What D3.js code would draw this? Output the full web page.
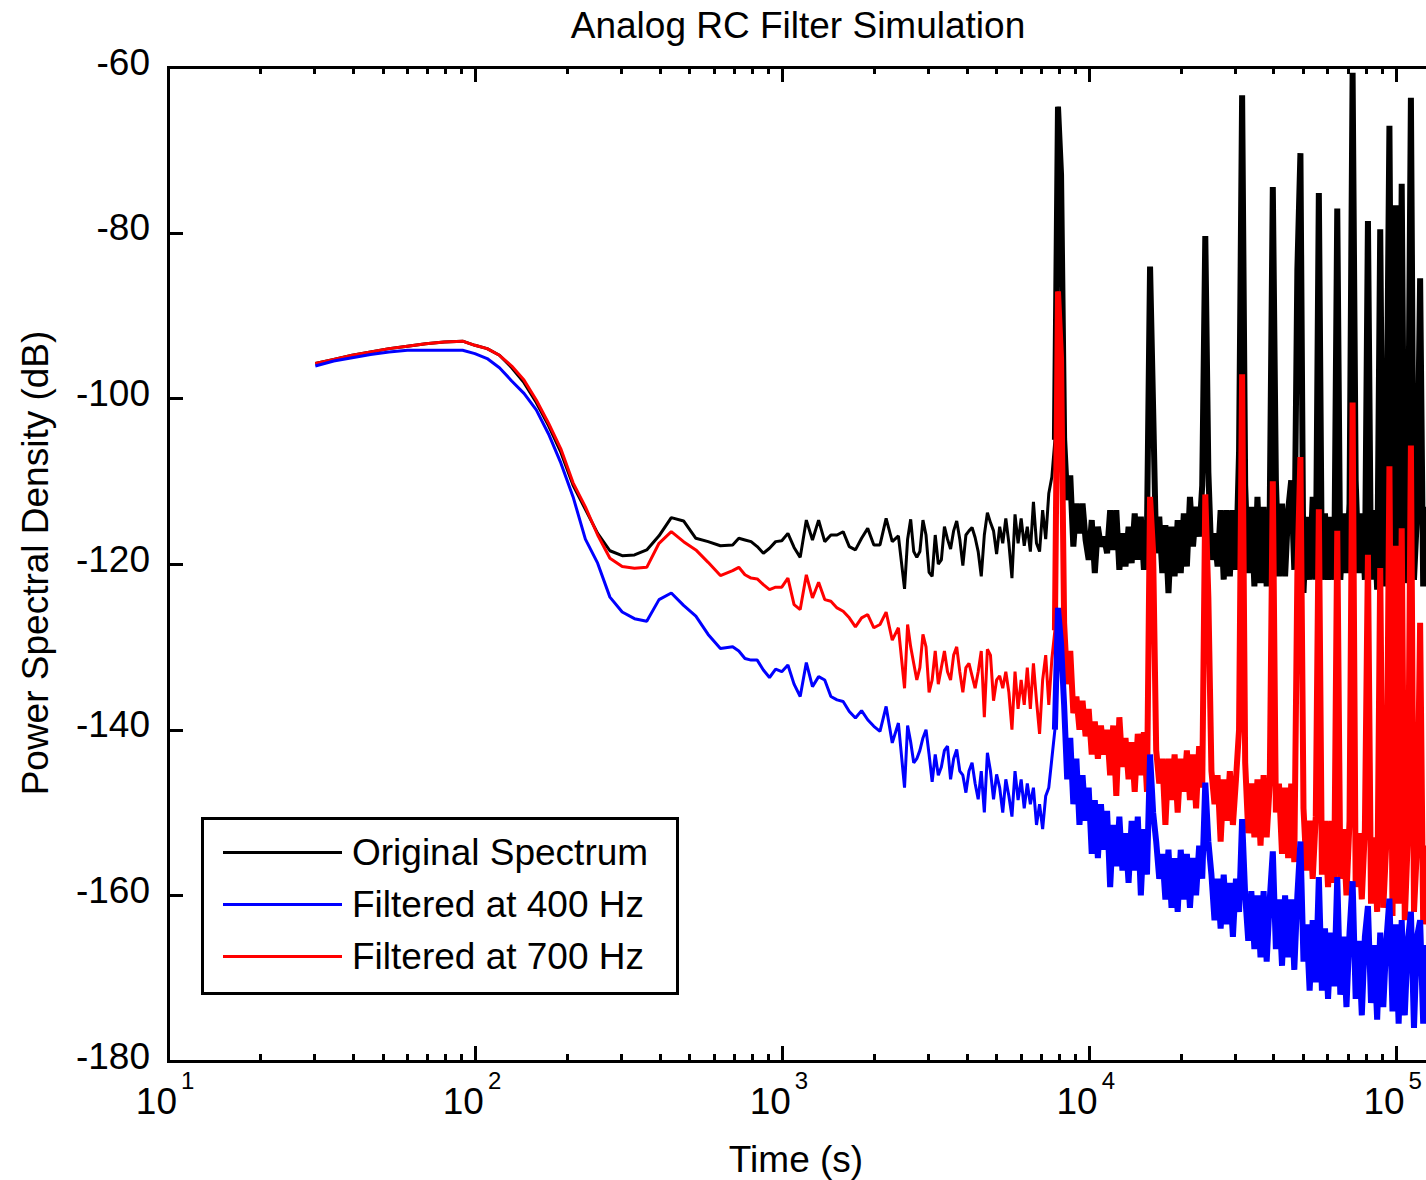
<!DOCTYPE html>
<html>
<head>
<meta charset="utf-8">
<script src="https://cdn.jsdelivr.net/npm/d3@7"></script>
<style>
  body { margin: 0; background: #fff; overflow: hidden; }
  svg { display: block; }
  text { font-family: "Liberation Sans", Arial, sans-serif; fill: #000; }
</style>
</head>
<body>
<script>
// frequency grid, as log10(Hz), shared by all three spectra
const freqLog = [
  1.48, 1.54, 1.60, 1.66, 1.72, 1.78, 1.84, 1.90, 1.96, 2.00,
  2.04, 2.08, 2.12, 2.16, 2.20, 2.24, 2.28, 2.32, 2.36, 2.40,
  2.44, 2.48, 2.52, 2.56, 2.60, 2.64, 2.68, 2.72, 2.76, 2.80, 2.84,
  2.86, 2.88, 2.90, 2.92, 2.94, 2.96, 2.98, 3.00, 3.02, 3.04,
  3.06, 3.08, 3.10, 3.12, 3.14, 3.16, 3.18, 3.20, 3.22, 3.24,
  3.26, 3.28, 3.30, 3.32, 3.34, 3.36, 3.38,
  3.40, 3.41, 3.42, 3.43, 3.44, 3.45, 3.46, 3.47, 3.48, 3.49,
  3.50, 3.51, 3.52, 3.53, 3.54, 3.55, 3.56, 3.57, 3.58, 3.59,
  3.60, 3.61, 3.62, 3.63, 3.64, 3.65, 3.66, 3.67, 3.68, 3.69,
  3.70, 3.71, 3.72, 3.73, 3.74, 3.75, 3.76, 3.77, 3.78, 3.79,
  3.80, 3.81, 3.82, 3.83, 3.84, 3.85, 3.86, 3.87, 3.88, 3.89,
  3.90, 3.91, 3.92, 3.93, 3.94, 3.95, 3.96, 3.97, 3.98, 3.99,
  4.00, 4.01, 4.02, 4.03, 4.04, 4.05, 4.06, 4.07, 4.08, 4.09,
  4.10, 4.11, 4.12, 4.13, 4.14, 4.15, 4.16, 4.17, 4.18, 4.19,
  4.20, 4.21, 4.22, 4.23, 4.24, 4.25, 4.26, 4.27, 4.28, 4.29,
  4.30, 4.31, 4.32, 4.33, 4.34, 4.35, 4.36, 4.37, 4.38, 4.39,
  4.40, 4.41, 4.42, 4.43, 4.44, 4.45, 4.46, 4.47, 4.48, 4.49,
  4.50, 4.51, 4.52, 4.53, 4.54, 4.55, 4.56, 4.57, 4.58, 4.59,
  4.60, 4.61, 4.62, 4.63, 4.64, 4.65, 4.66, 4.67, 4.68, 4.69,
  4.70, 4.71, 4.72, 4.73, 4.74, 4.75, 4.76, 4.77, 4.78, 4.79,
  4.80, 4.81, 4.82, 4.83, 4.84, 4.85, 4.86, 4.87, 4.88, 4.89,
  4.90, 4.91, 4.92, 4.93, 4.94, 4.95, 4.96, 4.97, 4.98, 4.99,
  5.00, 5.01, 5.02, 5.03, 5.04, 5.05, 5.06, 5.07, 5.08, 5.09,
  5.10, 5.11, 5.12, 5.13, 5.14, 5.15
];

// power spectral density, dB
const original = [
  -95.8, -95.3, -94.8, -94.4, -94.0, -93.7, -93.4, -93.2, -93.1, -93.6,
  -94.0, -94.8, -96.3, -98.1, -100.5, -103.3, -106.5, -110.5, -113.4, -116.3,
  -118.4, -119.0, -118.9, -118.3, -116.6, -114.4, -114.8, -116.9, -117.3, -117.8, -117.7,
  -116.9, -117.1, -117.3, -117.9, -118.7, -118.1, -117.3, -117.2, -116.3, -118.0,
  -119.2, -114.7, -117.1, -114.7, -117.3, -116.5, -116.5, -116.1, -117.9, -118.3,
  -116.9, -115.7, -117.7, -117.7, -114.5, -117.3, -116.6,
  -123.0, -117.0, -114.6, -118.5, -119.2, -118.5, -114.7, -116.5, -121.0, -121.5,
  -116.5, -120.0, -119.5, -115.5, -117.0, -118.2, -116.0, -114.8, -117.0, -120.2,
  -116.5, -116.0, -115.6, -116.8, -118.5, -121.5, -116.5, -113.8, -115.0, -116.0,
  -118.8, -115.5, -117.5, -114.5, -117.5, -121.7, -114.0, -117.5, -114.5, -117.8,
  -115.5, -118.5, -112.5, -117.5, -118.5, -113.5, -117.0, -111.5, -109.5, -105.0,
  -64.8, -73.0, -104.9, -112.3, -109.3, -117.9, -112.7, -116.3, -112.7, -117.1,
  -119.5, -114.7, -121.1, -115.5, -117.9, -116.7, -118.7, -113.5, -118.3, -113.5,
  -120.7, -116.3, -120.3, -115.5, -119.9, -113.9, -119.5, -114.3, -120.7, -115.9,
  -84.1, -101.2, -118.7, -114.3, -121.1, -115.3, -123.5, -115.5, -121.5, -114.7,
  -121.1, -113.9, -120.3, -111.9, -117.9, -113.1, -116.7, -110.5, -80.4, -108.9,
  -119.5, -116.3, -120.3, -113.5, -121.9, -113.5, -121.5, -113.5, -120.7, -106.5,
  -63.4, -110.5, -121.1, -113.1, -122.7, -111.9, -122.3, -113.1, -122.7, -113.5,
  -74.5, -109.9, -121.5, -112.7, -121.5, -113.5, -109.9, -120.7, -84.5, -70.4,
  -123.5, -114.3, -121.9, -111.9, -121.9, -75.2, -121.9, -113.9, -121.9, -114.3,
  -121.9, -77.1, -121.9, -113.9, -121.1, -112.7, -60.7, -109.9, -121.1, -113.9,
  -121.9, -78.6, -121.9, -113.5, -123.1, -79.6, -122.7, -108.3, -67.1, -122.7,
  -76.7, -121.5, -74.1, -122.3, -112.7, -63.7, -121.9, -113.9, -85.5, -122.7,
  -113.1, -121.5, -113.9, -122.0, -113.5, -121.5
];

const filtered400 = [
  -96.1, -95.5, -95.1, -94.7, -94.4, -94.2, -94.2, -94.2, -94.2, -94.6,
  -95.2, -96.3, -97.9, -99.4, -101.4, -104.3, -107.8, -111.9, -117.0, -119.9,
  -124.0, -125.8, -126.6, -126.9, -124.3, -123.5, -125.0, -126.3, -128.5, -130.2, -130.0,
  -130.5, -131.4, -131.6, -131.6, -132.8, -133.7, -132.7, -133.0, -132.2, -134.5,
  -136.0, -131.9, -134.8, -133.6, -134.0, -136.0, -136.4, -136.6, -137.8, -138.6,
  -137.7, -138.8, -139.6, -140.2, -137.2, -141.6, -139.2,
  -147.0, -139.5, -141.5, -144.0, -143.5, -142.5, -141.0, -140.0, -143.0, -146.3,
  -143.0, -145.5, -144.5, -142.5, -142.0, -146.0, -143.5, -142.4, -145.0, -145.5,
  -147.6, -145.0, -144.0, -146.5, -148.4, -145.0, -150.0, -142.8, -145.0, -148.4,
  -145.4, -147.0, -150.0, -146.0, -148.0, -150.5, -145.0, -148.5, -146.0, -149.5,
  -146.5, -149.0, -147.0, -151.5, -149.0, -152.0, -148.0, -147.0, -143.5, -140.0,
  -125.3, -129.6, -137.0, -146.0, -141.0, -149.0, -143.5, -151.5, -145.5, -151.0,
  -147.0, -155.0, -148.5, -155.5, -149.0, -154.5, -149.8, -159.0, -151.5, -156.5,
  -150.5, -157.0, -152.5, -158.5, -151.0, -157.0, -150.5, -160.0, -152.0, -157.5,
  -143.0, -150.0, -153.5, -158.0, -155.0, -160.5, -154.5, -161.5, -155.5, -162.0,
  -154.5, -160.5, -155.0, -161.5, -155.5, -160.0, -154.0, -158.0, -146.4, -153.5,
  -157.5, -163.0, -158.0, -164.0, -157.5, -163.5, -158.5, -165.0, -158.0, -162.0,
  -150.8, -160.0, -165.5, -159.5, -166.5, -160.0, -167.5, -159.5, -168.0, -160.5,
  -154.7, -166.5, -160.5, -168.5, -160.0, -167.5, -160.5, -169.0, -160.0, -153.5,
  -168.0, -163.5, -171.5, -163.0, -170.5, -157.8, -171.5, -164.0, -172.5, -164.5,
  -171.0, -157.8, -172.0, -165.0, -173.5, -164.5, -158.3, -172.5, -165.5, -174.5,
  -165.0, -161.3, -173.0, -166.0, -175.0, -164.5, -173.5, -165.5, -160.4, -174.0,
  -163.5, -175.5, -163.0, -174.5, -165.5, -162.0, -176.0, -165.0, -163.0, -175.5,
  -166.0, -174.5, -166.0, -175.0, -166.5, -174.5
];

const filtered700 = [
  -95.8, -95.3, -94.8, -94.4, -94.0, -93.7, -93.4, -93.2, -93.1, -93.6,
  -94.0, -94.8, -96.1, -97.8, -100.2, -103.0, -106.1, -110.2, -113.1, -116.5,
  -119.3, -120.3, -120.5, -120.4, -117.5, -116.1, -117.3, -118.3, -119.8, -121.4, -120.8,
  -120.4, -121.3, -121.7, -121.8, -122.5, -123.1, -122.8, -122.8, -121.7, -124.9,
  -125.5, -121.3, -124.1, -122.2, -124.3, -124.5, -125.3, -125.7, -126.5, -127.6,
  -126.5, -126.1, -127.7, -127.3, -125.8, -129.2, -127.7,
  -135.0, -127.3, -130.0, -132.0, -134.0, -132.5, -128.5, -130.0, -135.5, -134.0,
  -130.5, -134.5, -132.5, -130.5, -133.0, -134.0, -131.0, -130.0, -133.0, -135.5,
  -132.5, -132.0, -133.5, -135.0, -133.0, -130.5, -138.5, -130.3, -131.0, -136.5,
  -134.0, -133.5, -135.0, -133.0, -135.5, -140.0, -133.0, -137.5, -134.0, -137.0,
  -132.5, -137.5, -132.0, -136.5, -140.5, -134.0, -131.0, -137.0, -131.5, -128.0,
  -87.1, -95.2, -127.1, -134.5, -130.5, -138.0, -136.0, -140.0, -136.5, -140.8,
  -137.5, -143.0, -139.0, -143.5, -139.5, -143.0, -140.0, -145.5, -139.5, -148.0,
  -138.5, -144.5, -141.0, -146.0, -141.5, -147.5, -140.5, -145.5, -140.3, -147.5,
  -111.9, -118.6, -142.5, -146.5, -143.5, -151.5, -143.5, -148.5, -143.0, -150.0,
  -143.5, -147.5, -142.5, -148.5, -143.0, -149.5, -142.0, -147.0, -111.6, -124.1,
  -145.0, -149.0, -145.5, -153.5, -146.0, -151.0, -145.0, -151.5, -146.0, -140.0,
  -97.1, -144.0, -152.5, -146.5, -153.0, -146.0, -154.0, -145.5, -153.0, -146.5,
  -110.0, -150.0, -146.5, -155.0, -147.0, -155.5, -146.5, -156.0, -121.3, -107.1,
  -149.5, -157.0, -151.0, -158.0, -150.5, -113.4, -157.5, -151.0, -159.0, -151.0,
  -158.5, -116.0, -158.0, -152.0, -160.0, -151.0, -100.5, -159.0, -152.5, -160.5,
  -152.0, -118.9, -161.0, -153.0, -162.0, -120.5, -161.5, -153.5, -108.2, -162.5,
  -117.8, -161.0, -115.7, -163.0, -153.0, -105.7, -162.0, -154.0, -127.1, -163.5,
  -154.0, -162.5, -154.5, -163.0, -154.0, -162.5
];

const yTicks = [-60, -80, -100, -120, -140, -160, -180];
const xTickExps = [1, 2, 3, 4, 5];

const title = 'Analog RC Filter Simulation';
const xLabel = 'Time (s)';
const yLabel = 'Power Spectral Density (dB)';

// legend order differs from draw order (blue is drawn on top)
const legendItems = [
  { name: 'Original Spectrum', color: '#000000' },
  { name: 'Filtered at 400 Hz', color: '#0000ff' },
  { name: 'Filtered at 700 Hz', color: '#ff0000' }
];

const width = 1426;
const height = 1180;
const plotLeft = 168, plotTop = 67, plotBottom = 1061;
const plotRight = 1441.6; // frame runs just past the window edge

const svg = d3.select('body').append('svg')
  .attr('width', width)
  .attr('height', height);

const x = d3.scaleLog().domain([10, Math.pow(10, 5.15)]).range([plotLeft, plotRight]);
const y = d3.scaleLinear().domain([-180, -60]).range([plotBottom, plotTop]);

svg.append('defs').append('clipPath').attr('id', 'plot-clip')
  .append('rect')
  .attr('x', plotLeft).attr('y', plotTop)
  .attr('width', plotRight - plotLeft).attr('height', plotBottom - plotTop);

// data lines; above ~8 kHz the samples are so dense that the
// trace reads as a solid band, so that part gets a heavier stroke
const line = d3.line()
  .x(d => x(Math.pow(10, d[0])))
  .y(d => y(d[1]));

const denseFrom = freqLog.indexOf(3.90);

const drawOrder = [
  { values: original, color: '#000000' },
  { values: filtered700, color: '#ff0000' },
  { values: filtered400, color: '#0000ff' }
];

const plot = svg.append('g').attr('clip-path', 'url(#plot-clip)');
drawOrder.forEach(s => {
  const pts = freqLog.map((f, i) => [f, s.values[i]]);
  plot.append('path')
    .attr('d', line(pts.slice(0, denseFrom + 1)))
    .attr('fill', 'none')
    .attr('stroke', s.color)
    .attr('stroke-width', 3)
    .attr('stroke-linejoin', 'bevel');
  plot.append('path')
    .attr('d', line(pts.slice(denseFrom - 1)))
    .attr('fill', 'none')
    .attr('stroke', s.color)
    .attr('stroke-width', 6)
    .attr('stroke-linejoin', 'bevel');
});

// ticks, all pointing inwards, on all four sides
const majorX = xTickExps.map(e => Math.pow(10, e));
const minorX = x.ticks().filter(t => !majorX.includes(t));

function styleAxis(g) {
  g.select('.domain').remove();
  g.selectAll('.tick line')
    .attr('stroke', '#000')
    .attr('stroke-width', 3)
    .attr('shape-rendering', 'crispEdges');
}

svg.append('g').attr('transform', `translate(0,${plotBottom})`)
  .call(d3.axisBottom(x).tickValues(majorX).tickSize(-15).tickFormat(''))
  .call(styleAxis);
svg.append('g').attr('transform', `translate(0,${plotBottom})`)
  .call(d3.axisBottom(x).tickValues(minorX).tickSize(-7).tickFormat(''))
  .call(styleAxis);
svg.append('g').attr('transform', `translate(0,${plotTop})`)
  .call(d3.axisTop(x).tickValues(majorX).tickSize(-15).tickFormat(''))
  .call(styleAxis);
svg.append('g').attr('transform', `translate(0,${plotTop})`)
  .call(d3.axisTop(x).tickValues(minorX).tickSize(-7).tickFormat(''))
  .call(styleAxis);

const yAxis = svg.append('g').attr('transform', `translate(${plotLeft},0)`)
  .call(d3.axisLeft(y).tickValues(yTicks).tickSize(-15).tickPadding(18)
    .tickFormat(d => String(d)))
  .call(styleAxis);
yAxis.attr('font-family', null).attr('font-size', null);
yAxis.selectAll('.tick text')
  .attr('font-size', 37)
  .attr('fill', '#000')
  .attr('dy', 7);

svg.append('g').attr('transform', `translate(${plotRight},0)`)
  .call(d3.axisRight(y).tickValues(yTicks).tickSize(-15).tickFormat(''))
  .call(styleAxis);

// frame
svg.append('rect')
  .attr('x', plotLeft).attr('y', plotTop)
  .attr('width', plotRight - plotLeft).attr('height', plotBottom - plotTop)
  .attr('fill', 'none')
  .attr('stroke', '#000')
  .attr('stroke-width', 3)
  .attr('shape-rendering', 'crispEdges');

// x tick labels: 10 with a raised exponent
const xLab = svg.append('g');
xTickExps.forEach(e => {
  const px = x(Math.pow(10, e));
  xLab.append('text')
    .attr('x', px + 9).attr('y', 1114)
    .attr('text-anchor', 'end')
    .attr('font-size', 37)
    .text('10');
  xLab.append('text')
    .attr('x', px + 13).attr('y', 1089)
    .attr('font-size', 24)
    .text(e);
});

// title and axis labels
svg.append('text')
  .attr('x', 798).attr('y', 38)
  .attr('text-anchor', 'middle')
  .attr('font-size', 37)
  .text(title);

svg.append('text')
  .attr('x', 796).attr('y', 1172)
  .attr('text-anchor', 'middle')
  .attr('font-size', 37)
  .text(xLabel);

svg.append('text')
  .attr('transform', 'translate(48,563) rotate(-90)')
  .attr('text-anchor', 'middle')
  .attr('font-size', 37)
  .text(yLabel);

// legend
const legend = svg.append('g');
legend.append('rect')
  .attr('x', 202).attr('y', 818)
  .attr('width', 475).attr('height', 175)
  .attr('fill', '#fff')
  .attr('stroke', '#000')
  .attr('stroke-width', 3)
  .attr('shape-rendering', 'crispEdges');

legendItems.forEach((item, i) => {
  const ly = 852 + i * 52;
  legend.append('line')
    .attr('x1', 223).attr('x2', 342)
    .attr('y1', ly).attr('y2', ly)
    .attr('stroke', item.color)
    .attr('stroke-width', 3)
    .attr('shape-rendering', 'crispEdges');
  legend.append('text')
    .attr('x', 352).attr('y', ly + 13)
    .attr('font-size', 37)
    .text(item.name);
});
</script>
</body>
</html>
